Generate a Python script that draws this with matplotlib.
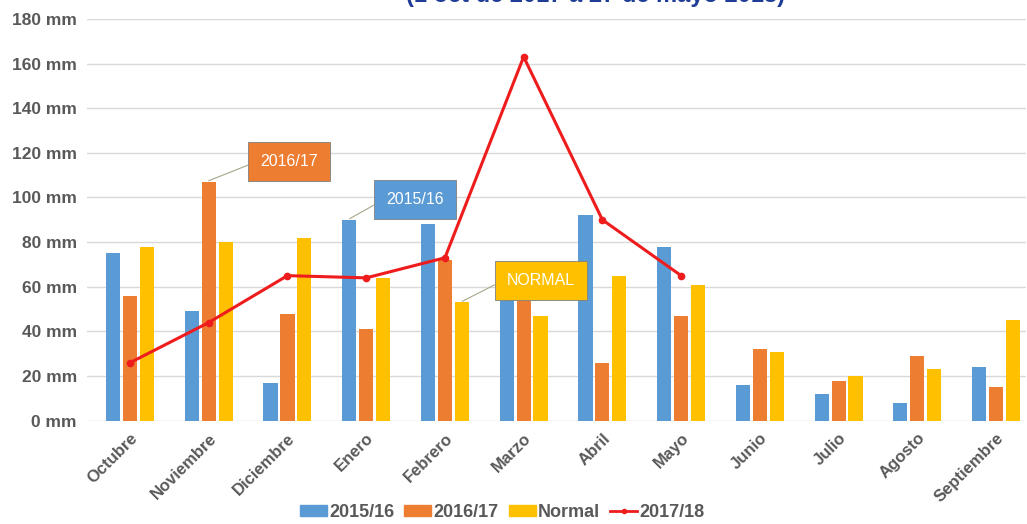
import numpy as np
import matplotlib.pyplot as plt
from matplotlib.patches import Patch
from matplotlib.lines import Line2D

meses = ['Octubre', 'Noviembre', 'Diciembre', 'Enero', 'Febrero', 'Marzo',
         'Abril', 'Mayo', 'Junio', 'Julio', 'Agosto', 'Septiembre']
lluvia_1516 = [75, 49, 17, 90, 88, 62, 92, 78, 16, 12, 8, 24]
lluvia_1617 = [56, 107, 48, 41, 72, 58, 26, 47, 32, 18, 29, 15]
lluvia_normal = [78, 80, 82, 64, 53, 47, 65, 61, 31, 20, 23, 45]
lluvia_1718 = [26, 44, 65, 64, 73, 163, 90, 65]

c_azul = '#5b9bd5'
c_naranja = '#ed7d31'
c_amarillo = '#ffc000'
c_rojo = '#ee1c1c'
c_texto = '#595959'

plt.rcParams['font.family'] = ['Liberation Sans', 'DejaVu Sans']

fig = plt.figure(figsize=(10.27, 5.24), dpi=100)
ax = fig.add_axes([0.0844, 0.197, 0.9146, 0.767])

x = np.arange(len(meses))
w = 0.18
d = 0.215
ax.bar(x - d, lluvia_1516, w, color=c_azul, zorder=2)
ax.bar(x, lluvia_1617, w, color=c_naranja, zorder=2)
ax.bar(x + d, lluvia_normal, w, color=c_amarillo, zorder=2)
ax.plot(x[:len(lluvia_1718)], lluvia_1718, color=c_rojo, lw=2.2,
        marker='o', ms=4.5, zorder=3)

ax.set_xlim(-0.55, 11.38)
ax.set_ylim(0, 180)
ax.set_yticks(range(0, 181, 20))
ax.set_yticklabels([f'{v} mm' for v in range(0, 181, 20)],
                   fontsize=12.5, fontweight='bold', color=c_texto)
ax.set_xticks(x)
ax.set_xticklabels(meses, rotation=45, ha='right', rotation_mode='anchor',
                   fontsize=12, fontweight='bold', color=c_texto)
ax.tick_params(length=0, pad=7)
ax.grid(axis='y', color='#d9d9d9', lw=1, zorder=0)
for s in ax.spines.values():
    s.set_visible(False)

# callouts
notas = [('2016/17', c_naranja, (1.0, 107.5), (2.02, 116)),
         ('2015/16', c_azul, (2.79, 90.5), (3.62, 99)),
         ('NORMAL', c_amarillo, (4.22, 53.5), (5.22, 63))]
for txt, col, punto, caja in notas:
    ax.annotate(txt, xy=punto, xytext=caja, ha='center', va='center',
                fontsize=11.5, color='white', zorder=5,
                bbox=dict(boxstyle='square,pad=0.75', fc=col, ec='#7f7f7f', lw=0.6),
                arrowprops=dict(arrowstyle='-', color='#a6a68a', lw=0.8,
                                shrinkA=0, shrinkB=0, relpos=(0, 0.6)))

fig.text(0.58, 1.008, '(1 oct de 2017 a 27 de mayo 2018)', ha='center', va='center',
         fontsize=17, fontweight='bold', color='#1f3c96')

handles = [Patch(color=c_azul), Patch(color=c_naranja), Patch(color=c_amarillo),
           Line2D([], [], color=c_rojo, lw=2, marker='o', ms=3)]
fig.legend(handles, ['2015/16', '2016/17', 'Normal', '2017/18'], loc='lower center',
           bbox_to_anchor=(0.489, -0.025), ncol=4, frameon=False,
           prop={'size': 13, 'weight': 'bold'}, labelcolor=c_texto,
           handlelength=1.5, handleheight=0.6, handletextpad=0.12, columnspacing=0.55)

fig.savefig('out.png', dpi=100)
